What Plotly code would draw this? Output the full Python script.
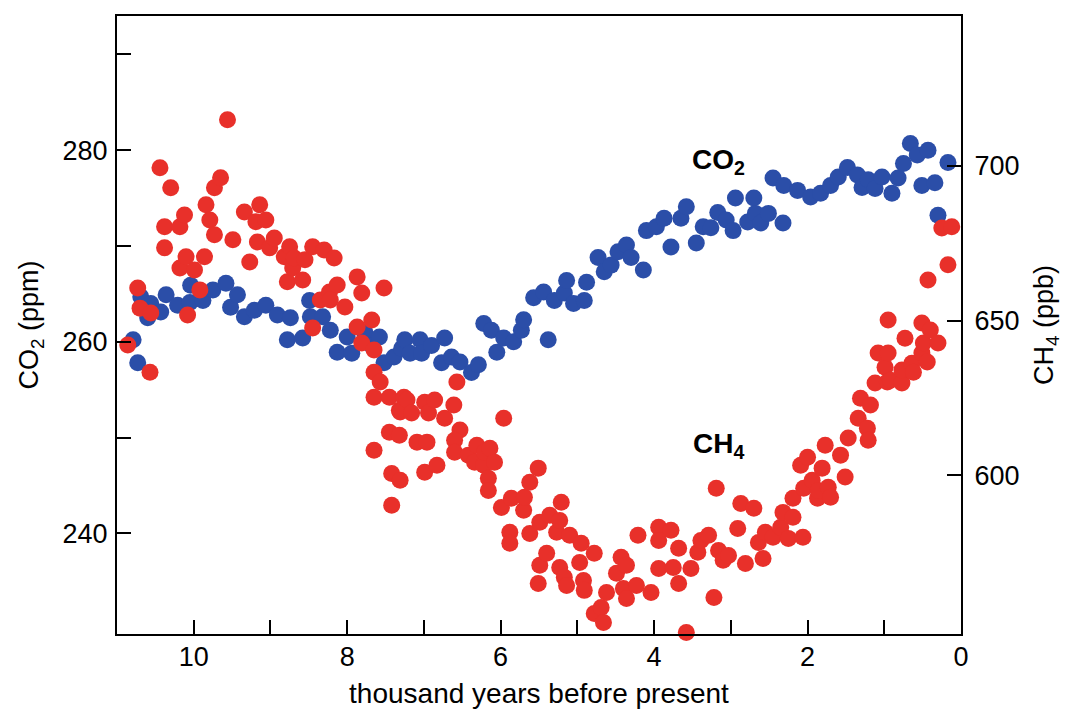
import plotly.graph_objects as go

# ---- data ----
co2_age = [10.79, 10.73, 10.69, 10.60, 10.56, 10.43, 10.36, 10.21, 10.05, 10.04,
           9.88, 9.75, 9.58, 9.52, 9.43, 9.34, 9.21, 9.06, 8.91, 8.78,
           8.74, 8.58, 8.49, 8.48, 8.32, 8.22, 8.13, 8.00, 7.94, 7.77,
           7.68, 7.58, 7.52, 7.39, 7.29, 7.25, 7.18, 7.05, 7.03, 6.90,
           6.77, 6.73, 6.64, 6.53, 6.38, 6.29, 6.22, 6.12, 6.05, 5.96,
           5.83, 5.73, 5.70, 5.57, 5.44, 5.38, 5.30, 5.17, 5.14, 5.05,
           4.91, 4.88, 4.73, 4.65, 4.56, 4.47, 4.36, 4.30, 4.14, 4.10,
           3.97, 3.87, 3.78, 3.65, 3.58, 3.45, 3.36, 3.26, 3.17, 3.06,
           2.97, 2.94, 2.78, 2.70, 2.68, 2.61, 2.51, 2.45, 2.32, 2.31,
           2.13, 1.96, 1.83, 1.70, 1.60, 1.48, 1.35, 1.29, 1.21, 1.12,
           1.03, 0.90, 0.82, 0.75, 0.66, 0.57, 0.51, 0.43, 0.34, 0.30,
           0.17]
co2_ppm = [260.2, 257.8, 264.7, 262.5, 264.0, 263.1, 264.9, 263.8, 264.1, 265.9,
           264.3, 265.4, 266.1, 263.6, 264.9, 262.6, 263.3, 263.8, 262.8, 260.2,
           262.5, 260.4, 264.3, 262.6, 262.6, 261.2, 258.9, 260.5, 258.8, 261.0,
           259.6, 260.5, 257.8, 258.4, 259.3, 260.2, 258.8, 260.2, 258.8, 259.6,
           257.8, 260.4, 258.4, 257.9, 256.8, 257.6, 261.9, 261.2, 258.9, 260.4,
           260.0, 261.2, 262.3, 264.6, 265.2, 260.2, 264.3, 265.1, 266.4, 264.0,
           264.3, 266.2, 268.8, 267.3, 268.0, 269.4, 270.1, 268.8, 267.5, 271.6,
           272.0, 272.9, 269.9, 272.9, 274.1, 270.3, 272.0, 271.9, 273.5, 272.7,
           271.6, 275.0, 272.5, 275.0, 273.4, 272.4, 273.4, 277.1, 272.4, 276.3,
           275.8, 275.1, 275.5, 276.3, 277.2, 278.2, 277.4, 276.1, 276.9, 276.0,
           277.2, 275.5, 277.1, 278.6, 280.7, 279.5, 276.3, 280.0, 276.6, 273.2,
           278.7]

ch4_age = [10.86, 10.73, 10.70, 10.57, 10.56, 10.44, 10.38, 10.38, 10.30, 10.18,
           10.18, 10.12, 10.10, 10.08, 9.99, 9.92, 9.86, 9.84, 9.79, 9.73,
           9.73, 9.65, 9.56, 9.49, 9.34, 9.27, 9.19, 9.17, 9.14, 9.06,
           9.01, 8.95, 8.82, 8.78, 8.75, 8.71, 8.69, 8.58, 8.55, 8.45,
           8.45, 8.35, 8.30, 8.23, 8.22, 8.17, 8.13, 8.03, 7.87, 7.87,
           7.81, 7.81, 7.68, 7.65, 7.65, 7.65, 7.65, 7.57, 7.52, 7.45,
           7.45, 7.42, 7.42, 7.32, 7.32, 7.31, 7.31, 7.26, 7.22, 7.16,
           7.09, 6.99, 6.99, 6.96, 6.94, 6.86, 6.83, 6.73, 6.61, 6.57,
           6.53, 6.60, 6.60, 6.42, 6.34, 6.31, 6.22, 6.21, 6.16, 6.16,
           6.14, 6.08, 5.99, 5.96, 5.88, 5.88, 5.86, 5.70, 5.69, 5.62,
           5.62, 5.51, 5.51, 5.49, 5.49, 5.40, 5.36, 5.27, 5.23, 5.23,
           5.21, 5.17, 5.14, 5.10, 4.97, 4.95, 4.92, 4.91, 4.78, 4.78,
           4.69, 4.66, 4.62, 4.49, 4.43, 4.40, 4.36, 4.36, 4.23, 4.21,
           4.04, 3.94, 3.94, 3.94, 3.78, 3.75, 3.68, 3.68, 3.58, 3.52,
           3.43, 3.39, 3.29, 3.22, 3.19, 3.16, 3.10, 3.03, 2.91, 2.87,
           2.81, 2.70, 2.64, 2.58, 2.55, 2.45, 2.35, 2.32, 2.25, 2.19,
           2.19, 2.09, 2.06, 2.05, 2.00, 1.94, 1.87, 1.86, 1.81, 1.77,
           1.73, 1.70, 1.57, 1.51, 1.47, 1.34, 1.31, 1.22, 1.21, 1.18,
           1.12, 1.08, 0.99, 0.96, 0.95, 0.95, 0.92, 0.77, 0.77, 0.73,
           0.64, 0.62, 0.51, 0.51, 0.49, 0.44, 0.43, 0.40, 0.30, 0.25,
           0.17, 0.12]
ch4_ppb = [642.1, 660.5, 654.0, 633.3, 652.4, 699.4, 680.3, 673.5, 692.9, 680.3,
           667.0, 684.1, 670.6, 651.8, 666.3, 659.9, 670.6, 687.4, 682.5, 692.9,
           677.7, 696.1, 714.9, 676.1, 685.1, 668.9, 681.9, 675.4, 687.4, 682.5,
           673.5, 676.7, 670.6, 662.5, 673.8, 667.0, 670.2, 663.1, 669.6, 673.8,
           647.6, 656.6, 672.8, 659.2, 656.6, 670.2, 661.5, 654.4, 664.1, 647.9,
           658.9, 642.7, 650.2, 640.5, 633.3, 625.2, 608.1, 630.1, 660.5, 625.2,
           613.9, 600.6, 590.3, 621.0, 612.9, 598.4, 620.4, 625.2, 624.3, 620.1,
           610.7, 623.6, 601.0, 610.7, 620.1, 624.3, 603.2, 618.4, 622.7, 630.1,
           614.6, 611.3, 607.4, 606.5, 604.2, 609.7, 603.2, 607.4, 599.0, 595.1,
           608.7, 604.2, 589.6, 618.4, 581.6, 578.0, 592.6, 588.7, 592.9, 597.7,
           581.2, 602.3, 565.0, 584.8, 570.9, 574.8, 587.1, 581.6, 585.4, 570.2,
           591.3, 567.0, 564.4, 580.6, 571.8, 578.0, 566.0, 562.8, 574.8, 555.3,
           557.3, 552.4, 562.1, 568.3, 573.5, 563.4, 570.9, 560.2, 564.4, 580.6,
           562.1, 583.2, 578.9, 569.9, 582.2, 570.2, 576.4, 565.0, 549.2, 569.9,
           575.1, 578.9, 580.6, 560.5, 595.8, 575.7, 572.5, 574.1, 582.8, 590.9,
           571.5, 589.3, 578.3, 573.1, 581.6, 580.0, 583.2, 588.0, 579.6, 586.4,
           592.6, 603.2, 580.0, 595.8, 605.8, 598.4, 592.6, 595.1, 602.3, 609.7,
           596.1, 592.9, 606.5, 599.4, 612.0, 618.4, 624.9, 615.2, 611.3, 622.7,
           629.8, 639.5, 634.9, 630.1, 650.2, 639.5, 630.7, 629.8, 634.0, 644.3,
           636.2, 633.3, 649.2, 639.5, 642.7, 636.6, 663.1, 646.9, 642.7, 679.9,
           668.0, 680.3]

x_ticks = [10, 8, 6, 4, 2, 0]
x_minor_ticks = [9, 7, 5, 3, 1]
co2_ticks = [240, 260, 280]
co2_minor_ticks = [250, 270, 290]
ch4_ticks = [600, 650, 700]

RED = "#E8302A"
BLUE = "#2B4EA8"
FONT = "Liberation Sans, Arial, sans-serif"

fig = go.Figure()
fig.add_trace(go.Scatter(
    x=ch4_age, y=ch4_ppb, yaxis="y2", mode="markers", name="CH4",
    marker=dict(size=17, color=RED, line=dict(width=0)), cliponaxis=False,
    showlegend=False))
fig.add_trace(go.Scatter(
    x=co2_age, y=co2_ppm, yaxis="y", mode="markers", name="CO2",
    marker=dict(size=17, color=BLUE, line=dict(width=0)), cliponaxis=False,
    showlegend=False))

axis_common = dict(showgrid=False, zeroline=False, showline=True,
                   automargin=False,
                   linecolor="black", linewidth=2, ticks="inside",
                   ticklen=14, tickwidth=2, tickcolor="black",
                   tickfont=dict(size=27, color="black", family=FONT))
minor_style = dict(ticks="inside", ticklen=14, tickwidth=2, tickcolor="black")

fig.update_layout(
    template="none",
    width=1068, height=709,
    margin=dict(l=117, r=107, t=16, b=75),
    paper_bgcolor="white", plot_bgcolor="white",
    font=dict(family=FONT, color="black"),
    xaxis=dict(range=[11.0, 0], tickvals=x_ticks, mirror=True,
               minor=dict(tickvals=x_minor_ticks, **minor_style),
               title=dict(text="thousand years before present",
                          font=dict(size=28, family=FONT), standoff=22),
               ticklabelstandoff=-2,
               **axis_common),
    yaxis=dict(range=[229.5, 294.0], tickvals=co2_ticks,
               minor=dict(tickvals=co2_minor_ticks, **minor_style),
               title=dict(text="CO<sub>2</sub> (ppm)",
                          font=dict(size=27, family=FONT), standoff=16),
               ticklabelstandoff=2,
               **axis_common),
    yaxis2=dict(range=[548.7, 748.4], tickvals=ch4_ticks, overlaying="y",
                side="right",
                title=dict(text="CH<sub>4</sub> (ppb)",
                           font=dict(size=27, family=FONT), standoff=16),
                ticklabelstandoff=6,
                **axis_common),
    annotations=[
        dict(x=3.16, y=278.8, xref="x", yref="y", text="<b>CO<sub>2</sub></b>",
             showarrow=False, font=dict(size=28, family=FONT, color="black")),
        dict(x=3.16, y=249.2, xref="x", yref="y", text="<b>CH<sub>4</sub></b>",
             showarrow=False, font=dict(size=28, family=FONT, color="black")),
    ],
)

fig.write_html("out.html",
               config={"displayModeBar": False},
               post_script="document.body.style.margin='0';"
                           "document.body.style.overflow='hidden';")
